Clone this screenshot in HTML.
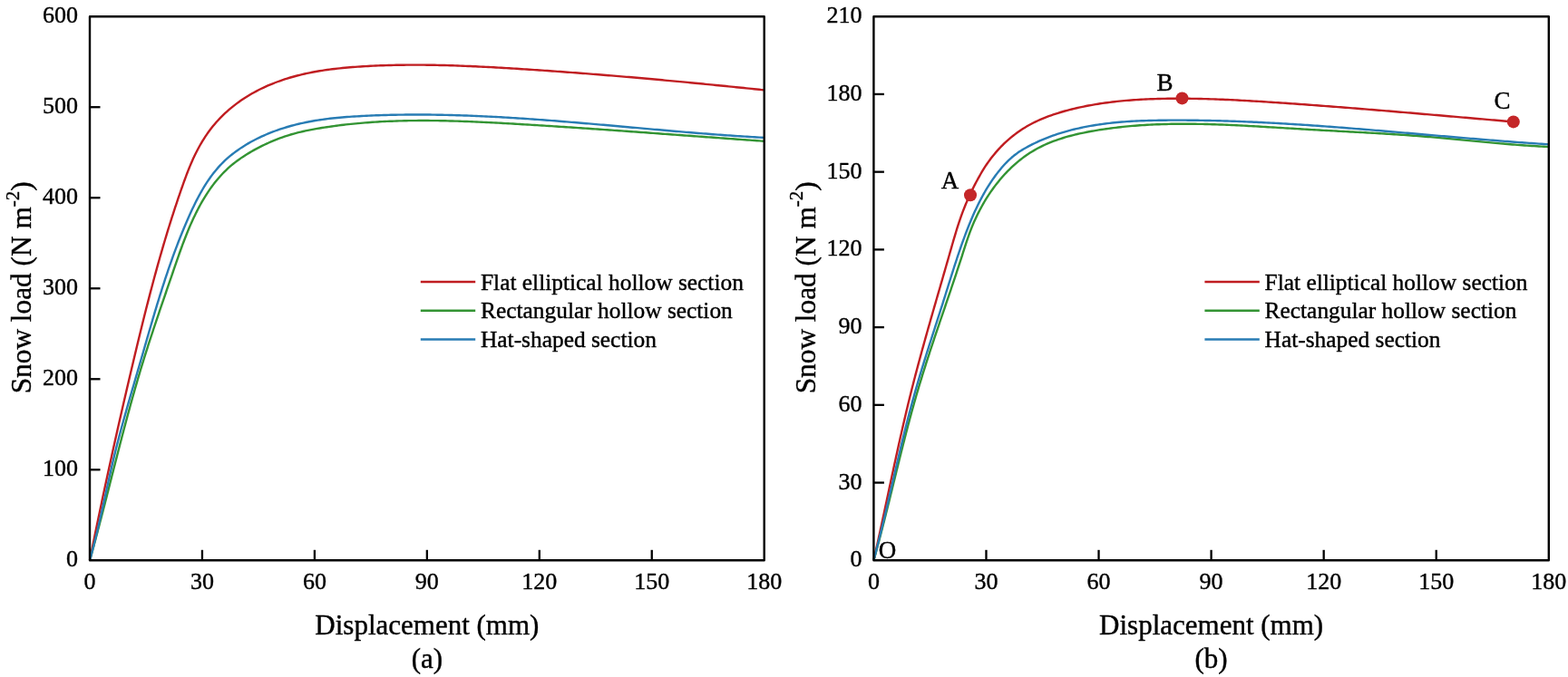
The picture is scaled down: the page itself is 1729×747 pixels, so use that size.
<!DOCTYPE html>
<html><head><meta charset="utf-8"><title>Snow load vs displacement</title>
<style>html,body{margin:0;padding:0;background:#fff;}svg{display:block;}text{stroke:#000;stroke-width:0.4px;}</style></head>
<body>
<svg width="1729" height="747" viewBox="0 0 1729 747" font-family="'Liberation Serif','Times New Roman',serif" font-size="26" fill="#000" stroke-linejoin="round">
<rect width="1729" height="747" fill="#fff"/>
<path d="M99.00,618.30 L99.55,615.53 L100.11,612.76 L100.66,609.99 L101.22,607.22 L101.78,604.45 L102.34,601.68 L102.90,598.91 L103.46,596.14 L104.02,593.37 L104.59,590.60 L105.15,587.83 L105.72,585.06 L106.29,582.29 L106.86,579.53 L107.43,576.76 L108.01,573.99 L108.58,571.22 L109.16,568.46 L109.74,565.69 L110.31,562.92 L110.89,560.16 L111.48,557.39 L112.06,554.63 L112.64,551.86 L113.23,549.10 L113.81,546.33 L114.40,543.57 L114.99,540.80 L115.58,538.04 L116.17,535.27 L116.77,532.51 L117.36,529.75 L117.96,526.98 L118.55,524.22 L119.15,521.46 L119.75,518.70 L120.35,515.93 L120.95,513.17 L121.56,510.41 L122.16,507.65 L122.77,504.89 L123.38,502.13 L123.98,499.37 L124.59,496.61 L125.20,493.85 L125.82,491.09 L126.43,488.33 L127.04,485.57 L127.66,482.81 L128.28,480.05 L128.90,477.29 L129.51,474.54 L130.13,471.78 L130.76,469.02 L131.38,466.26 L132.00,463.51 L132.63,460.75 L133.26,458.00 L133.88,455.24 L134.51,452.48 L135.14,449.73 L135.77,446.97 L136.41,444.22 L137.04,441.47 L137.67,438.71 L138.31,435.96 L138.95,433.20 L139.58,430.45 L140.22,427.70 L140.86,424.95 L141.51,422.19 L142.15,419.44 L142.79,416.69 L143.44,413.94 L144.08,411.19 L144.73,408.44 L145.38,405.69 L146.03,402.94 L146.68,400.19 L147.33,397.44 L147.98,394.69 L148.63,391.94 L149.29,389.19 L149.95,386.45 L150.60,383.70 L151.26,380.95 L151.92,378.20 L152.59,375.46 L153.25,372.71 L153.92,369.97 L154.59,367.22 L155.26,364.48 L155.93,361.74 L156.61,358.99 L157.28,356.25 L157.96,353.51 L158.65,350.77 L159.33,348.03 L160.02,345.29 L160.71,342.55 L161.40,339.81 L162.10,337.07 L162.80,334.34 L163.50,331.60 L164.21,328.87 L164.92,326.13 L165.63,323.40 L166.34,320.67 L167.06,317.94 L167.78,315.21 L168.51,312.48 L169.24,309.75 L169.97,307.02 L170.71,304.30 L171.45,301.57 L172.20,298.85 L172.95,296.12 L173.70,293.40 L174.46,290.68 L175.22,287.96 L175.99,285.24 L176.76,282.52 L177.54,279.81 L178.32,277.09 L179.11,274.38 L179.90,271.66 L180.70,268.95 L181.50,266.24 L182.30,263.53 L183.11,260.83 L183.93,258.12 L184.75,255.42 L185.58,252.71 L186.42,250.01 L187.25,247.31 L188.10,244.61 L188.95,241.91 L189.81,239.22 L190.67,236.52 L191.54,233.83 L192.41,231.14 L193.29,228.45 L194.18,225.76 L195.08,223.08 L195.98,220.39 L196.88,217.71 L197.80,215.03 L198.72,212.35 L199.65,209.67 L200.58,206.99 L201.52,204.32 L202.47,201.65 L203.43,198.98 L204.41,196.32 L205.40,193.66 L206.40,191.01 L207.43,188.37 L208.47,185.74 L209.55,183.13 L210.64,180.52 L211.76,177.93 L212.92,175.35 L214.10,172.79 L215.32,170.24 L216.58,167.72 L217.87,165.21 L219.20,162.72 L220.56,160.26 L221.97,157.82 L223.42,155.41 L224.91,153.02 L226.43,150.66 L228.01,148.33 L229.62,146.03 L231.28,143.76 L232.98,141.53 L234.73,139.33 L236.52,137.17 L238.36,135.04 L240.24,132.95 L242.16,130.89 L244.12,128.88 L246.12,126.90 L248.16,124.96 L250.24,123.05 L252.36,121.19 L254.51,119.36 L256.69,117.57 L258.91,115.83 L261.16,114.12 L263.44,112.45 L265.75,110.83 L268.09,109.24 L270.45,107.70 L272.85,106.19 L275.27,104.73 L277.71,103.31 L280.18,101.93 L282.67,100.59 L285.19,99.29 L287.72,98.03 L290.28,96.80 L292.85,95.62 L295.44,94.47 L298.05,93.36 L300.67,92.29 L303.31,91.25 L305.97,90.25 L308.63,89.28 L311.31,88.35 L314.00,87.46 L316.70,86.60 L319.41,85.77 L322.13,84.98 L324.86,84.22 L327.59,83.49 L330.33,82.80 L333.07,82.13 L335.82,81.50 L338.58,80.90 L341.34,80.32 L344.11,79.77 L346.88,79.25 L349.65,78.76 L352.44,78.28 L355.22,77.84 L358.01,77.41 L360.80,77.01 L363.60,76.63 L366.40,76.28 L369.20,75.94 L372.01,75.62 L374.81,75.32 L377.62,75.03 L380.44,74.76 L383.25,74.51 L386.07,74.27 L388.88,74.05 L391.70,73.84 L394.52,73.64 L397.34,73.45 L400.16,73.27 L402.98,73.11 L405.80,72.95 L408.62,72.80 L411.45,72.66 L414.27,72.53 L417.09,72.41 L419.91,72.30 L422.73,72.20 L425.56,72.10 L428.38,72.02 L431.20,71.94 L434.03,71.88 L436.85,71.82 L439.67,71.76 L442.50,71.72 L445.32,71.68 L448.15,71.66 L450.97,71.64 L453.79,71.62 L456.62,71.62 L459.44,71.62 L462.27,71.63 L465.09,71.64 L467.92,71.66 L470.74,71.69 L473.57,71.73 L476.39,71.77 L479.22,71.82 L482.05,71.87 L484.87,71.93 L487.70,72.00 L490.52,72.07 L493.35,72.14 L496.17,72.23 L499.00,72.31 L501.82,72.41 L504.65,72.50 L507.47,72.61 L510.30,72.71 L513.13,72.83 L515.95,72.94 L518.78,73.06 L521.60,73.19 L524.43,73.32 L527.25,73.45 L530.08,73.59 L532.90,73.73 L535.73,73.87 L538.55,74.02 L541.37,74.17 L544.20,74.32 L547.02,74.48 L549.85,74.64 L552.67,74.80 L555.49,74.96 L558.32,75.13 L561.14,75.30 L563.96,75.47 L566.79,75.65 L569.61,75.82 L572.43,76.00 L575.25,76.18 L578.08,76.36 L580.90,76.54 L583.72,76.73 L586.54,76.91 L589.36,77.10 L592.18,77.29 L595.00,77.48 L597.82,77.67 L600.64,77.87 L603.46,78.06 L606.28,78.26 L609.10,78.46 L611.92,78.65 L614.74,78.86 L617.56,79.06 L620.38,79.26 L623.19,79.47 L626.01,79.68 L628.83,79.89 L631.65,80.10 L634.47,80.31 L637.28,80.52 L640.10,80.73 L642.92,80.95 L645.74,81.17 L648.55,81.39 L651.37,81.61 L654.19,81.83 L657.00,82.05 L659.82,82.28 L662.63,82.50 L665.45,82.73 L668.27,82.96 L671.08,83.19 L673.90,83.42 L676.71,83.65 L679.53,83.89 L682.34,84.12 L685.16,84.36 L687.97,84.60 L690.79,84.83 L693.60,85.07 L696.42,85.32 L699.23,85.56 L702.05,85.80 L704.86,86.05 L707.67,86.29 L710.49,86.54 L713.30,86.79 L716.12,87.04 L718.93,87.29 L721.74,87.55 L724.56,87.80 L727.37,88.05 L730.18,88.31 L733.00,88.57 L735.81,88.83 L738.62,89.09 L741.44,89.35 L744.25,89.61 L747.06,89.87 L749.88,90.13 L752.69,90.40 L755.50,90.67 L758.32,90.93 L761.13,91.20 L763.94,91.47 L766.75,91.74 L769.57,92.01 L772.38,92.28 L775.19,92.56 L778.01,92.83 L780.82,93.11 L783.63,93.38 L786.44,93.66 L789.26,93.94 L792.07,94.22 L794.88,94.50 L797.69,94.78 L800.51,95.06 L803.32,95.35 L806.13,95.63 L808.95,95.91 L811.76,96.20 L814.57,96.49 L817.38,96.77 L820.20,97.06 L823.01,97.35 L825.82,97.64 L828.63,97.93 L831.45,98.22 L834.26,98.52 L837.07,98.81 L839.89,99.11 L842.70,99.40" fill="none" stroke="#C01D21" stroke-width="2.4" stroke-linejoin="round"/>
<path d="M99.00,618.30 L99.71,615.73 L100.42,613.16 L101.13,610.59 L101.84,608.01 L102.54,605.44 L103.24,602.86 L103.93,600.28 L104.63,597.71 L105.32,595.13 L106.01,592.55 L106.69,589.97 L107.38,587.39 L108.06,584.81 L108.74,582.22 L109.41,579.64 L110.09,577.06 L110.76,574.47 L111.44,571.89 L112.11,569.30 L112.78,566.72 L113.44,564.13 L114.11,561.54 L114.78,558.96 L115.44,556.37 L116.10,553.78 L116.77,551.19 L117.43,548.60 L118.09,546.01 L118.75,543.42 L119.41,540.83 L120.07,538.25 L120.73,535.66 L121.38,533.07 L122.04,530.48 L122.70,527.89 L123.36,525.30 L124.02,522.71 L124.68,520.12 L125.34,517.53 L126.00,514.94 L126.66,512.35 L127.32,509.76 L127.98,507.17 L128.64,504.58 L129.31,501.99 L129.97,499.40 L130.64,496.81 L131.31,494.23 L131.97,491.64 L132.64,489.05 L133.32,486.47 L133.99,483.88 L134.66,481.29 L135.34,478.71 L136.02,476.13 L136.70,473.54 L137.38,470.96 L138.07,468.38 L138.76,465.80 L139.45,463.22 L140.14,460.64 L140.83,458.06 L141.53,455.48 L142.23,452.90 L142.93,450.33 L143.64,447.75 L144.35,445.18 L145.06,442.60 L145.78,440.03 L146.50,437.46 L147.22,434.89 L147.95,432.32 L148.68,429.75 L149.41,427.19 L150.15,424.62 L150.89,422.06 L151.64,419.50 L152.39,416.93 L153.14,414.37 L153.90,411.82 L154.67,409.26 L155.43,406.70 L156.21,404.15 L156.98,401.60 L157.77,399.05 L158.55,396.50 L159.35,393.95 L160.14,391.40 L160.94,388.86 L161.75,386.31 L162.56,383.77 L163.37,381.23 L164.19,378.69 L165.01,376.15 L165.83,373.61 L166.66,371.08 L167.49,368.54 L168.33,366.01 L169.17,363.47 L170.01,360.94 L170.85,358.41 L171.70,355.88 L172.54,353.35 L173.40,350.82 L174.25,348.29 L175.10,345.76 L175.96,343.23 L176.82,340.70 L177.68,338.17 L178.54,335.64 L179.40,333.11 L180.27,330.59 L181.13,328.06 L182.00,325.53 L182.87,323.00 L183.73,320.48 L184.60,317.95 L185.47,315.42 L186.34,312.89 L187.21,310.37 L188.08,307.84 L188.95,305.31 L189.81,302.78 L190.68,300.25 L191.55,297.72 L192.42,295.19 L193.29,292.66 L194.16,290.13 L195.03,287.60 L195.91,285.07 L196.79,282.55 L197.68,280.02 L198.58,277.50 L199.49,274.99 L200.40,272.47 L201.32,269.96 L202.26,267.46 L203.21,264.96 L204.17,262.46 L205.15,259.98 L206.14,257.49 L207.14,255.02 L208.17,252.55 L209.21,250.09 L210.27,247.63 L211.35,245.19 L212.45,242.75 L213.58,240.33 L214.73,237.91 L215.90,235.50 L217.09,233.11 L218.32,230.73 L219.56,228.36 L220.84,226.01 L222.14,223.67 L223.47,221.35 L224.83,219.06 L226.22,216.78 L227.64,214.52 L229.10,212.29 L230.58,210.08 L232.10,207.90 L233.65,205.75 L235.23,203.62 L236.85,201.52 L238.51,199.46 L240.20,197.42 L241.94,195.42 L243.70,193.45 L245.51,191.52 L247.36,189.63 L249.25,187.77 L251.18,185.95 L253.15,184.18 L255.16,182.44 L257.22,180.75 L259.31,179.10 L261.44,177.48 L263.60,175.91 L265.80,174.37 L268.03,172.88 L270.28,171.41 L272.56,169.99 L274.87,168.60 L277.19,167.24 L279.54,165.91 L281.90,164.62 L284.28,163.35 L286.67,162.12 L289.07,160.92 L291.48,159.75 L293.91,158.61 L296.35,157.50 L298.79,156.42 L301.25,155.38 L303.72,154.37 L306.21,153.39 L308.70,152.45 L311.20,151.54 L313.71,150.67 L316.24,149.84 L318.77,149.04 L321.31,148.27 L323.87,147.55 L326.43,146.86 L329.00,146.20 L331.58,145.58 L334.17,144.98 L336.76,144.41 L339.36,143.87 L341.97,143.35 L344.58,142.85 L347.20,142.37 L349.82,141.91 L352.45,141.47 L355.08,141.04 L357.71,140.62 L360.34,140.21 L362.98,139.82 L365.62,139.44 L368.26,139.08 L370.91,138.72 L373.56,138.38 L376.21,138.05 L378.86,137.73 L381.52,137.43 L384.17,137.14 L386.83,136.85 L389.49,136.58 L392.15,136.32 L394.82,136.07 L397.48,135.84 L400.15,135.61 L402.81,135.40 L405.48,135.19 L408.15,135.00 L410.82,134.81 L413.49,134.64 L416.16,134.47 L418.83,134.32 L421.50,134.17 L424.18,134.04 L426.85,133.91 L429.52,133.79 L432.19,133.69 L434.86,133.59 L437.53,133.50 L440.20,133.42 L442.88,133.34 L445.55,133.28 L448.22,133.22 L450.89,133.17 L453.56,133.13 L456.23,133.10 L458.90,133.08 L461.57,133.06 L464.24,133.05 L466.91,133.04 L469.58,133.05 L472.25,133.06 L474.91,133.08 L477.58,133.10 L480.25,133.13 L482.92,133.17 L485.59,133.21 L488.26,133.26 L490.93,133.31 L493.59,133.37 L496.26,133.43 L498.93,133.51 L501.60,133.58 L504.27,133.66 L506.93,133.75 L509.60,133.84 L512.27,133.93 L514.93,134.03 L517.60,134.13 L520.27,134.24 L522.94,134.35 L525.60,134.47 L528.27,134.59 L530.94,134.71 L533.60,134.84 L536.27,134.97 L538.94,135.10 L541.60,135.23 L544.27,135.37 L546.94,135.51 L549.60,135.65 L552.27,135.80 L554.93,135.95 L557.60,136.10 L560.27,136.25 L562.93,136.40 L565.60,136.55 L568.26,136.71 L570.93,136.87 L573.60,137.03 L576.26,137.19 L578.93,137.35 L581.59,137.51 L584.26,137.67 L586.92,137.83 L589.59,138.00 L592.26,138.16 L594.92,138.33 L597.59,138.49 L600.25,138.66 L602.92,138.83 L605.58,139.00 L608.25,139.17 L610.91,139.34 L613.58,139.51 L616.25,139.69 L618.91,139.86 L621.58,140.04 L624.24,140.21 L626.91,140.39 L629.57,140.56 L632.24,140.74 L634.90,140.92 L637.57,141.10 L640.23,141.28 L642.90,141.46 L645.56,141.64 L648.23,141.82 L650.89,142.00 L653.56,142.18 L656.22,142.37 L658.89,142.55 L661.55,142.73 L664.22,142.92 L666.88,143.10 L669.55,143.29 L672.21,143.48 L674.88,143.66 L677.54,143.85 L680.20,144.04 L682.87,144.23 L685.53,144.42 L688.20,144.61 L690.86,144.79 L693.53,144.98 L696.19,145.18 L698.86,145.37 L701.52,145.56 L704.18,145.75 L706.85,145.94 L709.51,146.13 L712.18,146.32 L714.84,146.52 L717.51,146.71 L720.17,146.90 L722.83,147.10 L725.50,147.29 L728.16,147.48 L730.83,147.68 L733.49,147.87 L736.16,148.06 L738.82,148.26 L741.48,148.45 L744.15,148.65 L746.81,148.84 L749.48,149.04 L752.14,149.23 L754.80,149.43 L757.47,149.62 L760.13,149.82 L762.79,150.01 L765.46,150.21 L768.12,150.40 L770.79,150.60 L773.45,150.79 L776.11,150.99 L778.78,151.18 L781.44,151.38 L784.10,151.57 L786.77,151.77 L789.43,151.96 L792.10,152.15 L794.76,152.35 L797.42,152.54 L800.09,152.74 L802.75,152.93 L805.41,153.12 L808.08,153.32 L810.74,153.51 L813.40,153.70 L816.07,153.89 L818.73,154.09 L821.39,154.28 L824.06,154.47 L826.72,154.66 L829.38,154.85 L832.05,155.04 L834.71,155.23 L837.37,155.42 L840.04,155.61 L842.70,155.80" fill="none" stroke="#339433" stroke-width="2.4" stroke-linejoin="round"/>
<path d="M99.00,618.30 L99.72,615.70 L100.43,613.10 L101.13,610.50 L101.82,607.89 L102.51,605.28 L103.18,602.67 L103.84,600.06 L104.50,597.44 L105.15,594.82 L105.79,592.20 L106.42,589.58 L107.05,586.96 L107.67,584.33 L108.29,581.71 L108.90,579.08 L109.50,576.45 L110.10,573.82 L110.70,571.19 L111.29,568.56 L111.88,565.93 L112.47,563.29 L113.05,560.66 L113.64,558.02 L114.22,555.39 L114.80,552.75 L115.37,550.12 L115.95,547.48 L116.53,544.84 L117.11,542.21 L117.69,539.57 L118.27,536.94 L118.85,534.30 L119.43,531.67 L120.01,529.03 L120.60,526.40 L121.19,523.77 L121.79,521.14 L122.39,518.51 L122.99,515.88 L123.60,513.25 L124.21,510.62 L124.83,508.00 L125.45,505.37 L126.08,502.75 L126.72,500.13 L127.36,497.51 L128.01,494.89 L128.67,492.28 L129.33,489.66 L130.01,487.05 L130.68,484.44 L131.36,481.83 L132.05,479.23 L132.74,476.62 L133.44,474.02 L134.15,471.41 L134.85,468.81 L135.57,466.21 L136.28,463.61 L137.00,461.01 L137.73,458.41 L138.46,455.82 L139.19,453.22 L139.92,450.63 L140.66,448.03 L141.40,445.44 L142.14,442.85 L142.89,440.26 L143.63,437.66 L144.38,435.07 L145.13,432.48 L145.89,429.89 L146.64,427.30 L147.39,424.71 L148.15,422.12 L148.90,419.53 L149.66,416.95 L150.41,414.36 L151.17,411.77 L151.92,409.18 L152.68,406.59 L153.43,404.00 L154.18,401.41 L154.93,398.82 L155.68,396.23 L156.43,393.64 L157.18,391.05 L157.92,388.46 L158.67,385.87 L159.41,383.28 L160.16,380.69 L160.91,378.09 L161.65,375.50 L162.40,372.91 L163.15,370.32 L163.90,367.74 L164.65,365.15 L165.40,362.56 L166.16,359.97 L166.91,357.38 L167.67,354.80 L168.43,352.21 L169.20,349.63 L169.96,347.04 L170.73,344.46 L171.51,341.88 L172.28,339.30 L173.06,336.72 L173.85,334.14 L174.64,331.57 L175.43,328.99 L176.23,326.42 L177.03,323.85 L177.84,321.28 L178.65,318.71 L179.47,316.14 L180.30,313.57 L181.13,311.01 L181.96,308.45 L182.81,305.89 L183.66,303.33 L184.52,300.78 L185.38,298.22 L186.25,295.67 L187.13,293.12 L188.02,290.58 L188.91,288.03 L189.82,285.49 L190.73,282.95 L191.65,280.42 L192.58,277.88 L193.52,275.35 L194.47,272.82 L195.42,270.30 L196.39,267.78 L197.37,265.26 L198.36,262.74 L199.35,260.23 L200.36,257.72 L201.38,255.21 L202.41,252.71 L203.46,250.21 L204.51,247.71 L205.58,245.22 L206.65,242.73 L207.74,240.24 L208.85,237.76 L209.96,235.28 L211.09,232.81 L212.24,230.35 L213.41,227.90 L214.59,225.46 L215.79,223.02 L217.02,220.61 L218.27,218.20 L219.54,215.82 L220.83,213.45 L222.16,211.10 L223.51,208.77 L224.89,206.46 L226.30,204.18 L227.74,201.92 L229.21,199.68 L230.72,197.48 L232.26,195.30 L233.84,193.15 L235.45,191.04 L237.11,188.95 L238.81,186.91 L240.54,184.89 L242.32,182.92 L244.15,180.98 L246.02,179.09 L247.94,177.23 L249.90,175.42 L251.90,173.65 L253.95,171.92 L256.04,170.23 L258.17,168.58 L260.33,166.97 L262.53,165.40 L264.75,163.87 L267.01,162.38 L269.30,160.93 L271.61,159.52 L273.95,158.14 L276.31,156.81 L278.69,155.51 L281.09,154.25 L283.50,153.02 L285.93,151.83 L288.38,150.68 L290.84,149.56 L293.32,148.48 L295.81,147.43 L298.32,146.42 L300.84,145.44 L303.37,144.50 L305.91,143.58 L308.46,142.70 L311.03,141.85 L313.61,141.03 L316.19,140.25 L318.79,139.49 L321.39,138.76 L324.00,138.06 L326.62,137.40 L329.25,136.76 L331.88,136.14 L334.52,135.56 L337.17,135.00 L339.81,134.47 L342.47,133.97 L345.13,133.49 L347.79,133.04 L350.45,132.61 L353.12,132.20 L355.79,131.82 L358.46,131.46 L361.13,131.12 L363.81,130.80 L366.49,130.50 L369.17,130.22 L371.85,129.95 L374.54,129.70 L377.22,129.47 L379.91,129.25 L382.60,129.04 L385.29,128.85 L387.98,128.66 L390.67,128.49 L393.36,128.33 L396.05,128.18 L398.74,128.03 L401.43,127.90 L404.12,127.77 L406.82,127.64 L409.51,127.53 L412.20,127.42 L414.89,127.31 L417.59,127.21 L420.28,127.12 L422.97,127.04 L425.66,126.96 L428.36,126.89 L431.05,126.82 L433.74,126.76 L436.43,126.71 L439.12,126.66 L441.82,126.62 L444.51,126.59 L447.20,126.56 L449.89,126.53 L452.59,126.52 L455.28,126.50 L457.97,126.50 L460.66,126.50 L463.36,126.50 L466.05,126.51 L468.74,126.53 L471.44,126.55 L474.13,126.57 L476.82,126.60 L479.51,126.64 L482.21,126.68 L484.90,126.73 L487.59,126.78 L490.28,126.83 L492.98,126.89 L495.67,126.96 L498.36,127.03 L501.06,127.10 L503.75,127.18 L506.44,127.26 L509.13,127.35 L511.83,127.44 L514.52,127.54 L517.21,127.64 L519.90,127.74 L522.60,127.85 L525.29,127.97 L527.98,128.08 L530.67,128.20 L533.37,128.33 L536.06,128.46 L538.75,128.59 L541.45,128.72 L544.14,128.86 L546.83,129.00 L549.52,129.15 L552.22,129.30 L554.91,129.45 L557.60,129.61 L560.29,129.77 L562.99,129.93 L565.68,130.10 L568.37,130.27 L571.06,130.44 L573.75,130.61 L576.45,130.79 L579.14,130.97 L581.83,131.15 L584.52,131.34 L587.22,131.53 L589.91,131.72 L592.60,131.91 L595.29,132.10 L597.99,132.30 L600.68,132.50 L603.37,132.70 L606.06,132.91 L608.75,133.11 L611.44,133.32 L614.14,133.53 L616.83,133.75 L619.52,133.96 L622.21,134.18 L624.90,134.39 L627.60,134.61 L630.29,134.83 L632.98,135.06 L635.67,135.28 L638.36,135.50 L641.05,135.73 L643.74,135.96 L646.44,136.19 L649.13,136.42 L651.82,136.65 L654.51,136.88 L657.20,137.11 L659.89,137.35 L662.58,137.58 L665.27,137.82 L667.96,138.05 L670.66,138.29 L673.35,138.53 L676.04,138.77 L678.73,139.01 L681.42,139.24 L684.11,139.48 L686.80,139.72 L689.49,139.96 L692.18,140.20 L694.87,140.44 L697.56,140.68 L700.25,140.92 L702.94,141.16 L705.63,141.40 L708.32,141.64 L711.01,141.88 L713.70,142.12 L716.39,142.35 L719.08,142.59 L721.77,142.83 L724.46,143.07 L727.15,143.30 L729.84,143.54 L732.53,143.77 L735.21,144.00 L737.90,144.24 L740.59,144.47 L743.28,144.70 L745.97,144.93 L748.66,145.15 L751.35,145.38 L754.04,145.61 L756.72,145.83 L759.41,146.05 L762.10,146.27 L764.79,146.49 L767.48,146.71 L770.17,146.93 L772.85,147.14 L775.54,147.36 L778.23,147.57 L780.92,147.78 L783.60,147.98 L786.29,148.19 L788.98,148.39 L791.67,148.59 L794.35,148.79 L797.04,148.98 L799.73,149.18 L802.41,149.37 L805.10,149.56 L807.79,149.74 L810.47,149.93 L813.16,150.11 L815.84,150.29 L818.53,150.46 L821.22,150.63 L823.90,150.80 L826.59,150.97 L829.27,151.13 L831.96,151.29 L834.64,151.45 L837.33,151.60 L840.01,151.75 L842.70,151.90" fill="none" stroke="#287CB4" stroke-width="2.4" stroke-linejoin="round"/>

<rect x="99.0" y="18.2" width="743.70" height="600.10" fill="none" stroke="#000" stroke-width="2.4"/>
<text x="86.0" y="625.30" text-anchor="end">0</text>
<line x1="99.0" y1="518.28" x2="110.5" y2="518.28" stroke="#000" stroke-width="2.3"/>
<text x="86.0" y="525.28" text-anchor="end">100</text>
<line x1="99.0" y1="418.27" x2="110.5" y2="418.27" stroke="#000" stroke-width="2.3"/>
<text x="86.0" y="425.27" text-anchor="end">200</text>
<line x1="99.0" y1="318.25" x2="110.5" y2="318.25" stroke="#000" stroke-width="2.3"/>
<text x="86.0" y="325.25" text-anchor="end">300</text>
<line x1="99.0" y1="218.23" x2="110.5" y2="218.23" stroke="#000" stroke-width="2.3"/>
<text x="86.0" y="225.23" text-anchor="end">400</text>
<line x1="99.0" y1="118.22" x2="110.5" y2="118.22" stroke="#000" stroke-width="2.3"/>
<text x="86.0" y="125.22" text-anchor="end">500</text>
<text x="86.0" y="25.20" text-anchor="end">600</text>
<text x="99.00" y="649.70" text-anchor="middle">0</text>
<line x1="222.95" y1="618.3" x2="222.95" y2="606.8" stroke="#000" stroke-width="2.3"/>
<text x="222.95" y="649.70" text-anchor="middle">30</text>
<line x1="346.90" y1="618.3" x2="346.90" y2="606.8" stroke="#000" stroke-width="2.3"/>
<text x="346.90" y="649.70" text-anchor="middle">60</text>
<line x1="470.85" y1="618.3" x2="470.85" y2="606.8" stroke="#000" stroke-width="2.3"/>
<text x="470.85" y="649.70" text-anchor="middle">90</text>
<line x1="594.80" y1="618.3" x2="594.80" y2="606.8" stroke="#000" stroke-width="2.3"/>
<text x="594.80" y="649.70" text-anchor="middle">120</text>
<line x1="718.75" y1="618.3" x2="718.75" y2="606.8" stroke="#000" stroke-width="2.3"/>
<text x="718.75" y="649.70" text-anchor="middle">150</text>
<text x="842.70" y="649.70" text-anchor="middle">180</text>
<text x="470.85" y="699.5" text-anchor="middle" font-size="31">Displacement (mm)</text>
<text x="470.85" y="736.5" text-anchor="middle" font-size="31">(a)</text>
<text transform="translate(34.40,317.3) rotate(-90)" text-anchor="middle" font-size="31.3">Snow load (N m<tspan dy="-13.5" font-size="21">-2</tspan><tspan dy="13.5">)</tspan></text>
<line x1="463.80" y1="311.00" x2="524.20" y2="311.00" stroke="#C01D21" stroke-width="2.4"/>
<text x="530.00" y="319.50" font-size="25.4">Flat elliptical hollow section</text>
<line x1="463.80" y1="342.80" x2="524.20" y2="342.80" stroke="#339433" stroke-width="2.4"/>
<text x="530.00" y="351.10" font-size="25.4">Rectangular hollow section</text>
<line x1="463.80" y1="374.50" x2="524.20" y2="374.50" stroke="#287CB4" stroke-width="2.4"/>
<text x="530.00" y="382.80" font-size="25.4">Hat-shaped section</text>
<path d="M963.40,618.30 L963.98,615.71 L964.56,613.12 L965.14,610.53 L965.72,607.94 L966.29,605.34 L966.87,602.75 L967.44,600.16 L968.01,597.56 L968.58,594.97 L969.14,592.37 L969.71,589.78 L970.27,587.18 L970.83,584.59 L971.39,581.99 L971.95,579.39 L972.51,576.80 L973.07,574.20 L973.62,571.60 L974.18,569.01 L974.73,566.41 L975.29,563.81 L975.84,561.22 L976.40,558.62 L976.95,556.02 L977.50,553.42 L978.06,550.82 L978.61,548.23 L979.16,545.63 L979.71,543.03 L980.27,540.43 L980.82,537.83 L981.37,535.24 L981.93,532.64 L982.48,530.04 L983.04,527.44 L983.60,524.85 L984.15,522.25 L984.71,519.65 L985.27,517.06 L985.83,514.46 L986.39,511.87 L986.95,509.27 L987.52,506.67 L988.08,504.08 L988.65,501.49 L989.22,498.89 L989.79,496.30 L990.36,493.70 L990.94,491.11 L991.51,488.52 L992.09,485.93 L992.67,483.34 L993.25,480.75 L993.84,478.16 L994.43,475.57 L995.02,472.98 L995.61,470.39 L996.20,467.80 L996.80,465.21 L997.40,462.63 L998.01,460.04 L998.61,457.46 L999.22,454.87 L999.84,452.29 L1000.45,449.71 L1001.07,447.13 L1001.70,444.55 L1002.33,441.97 L1002.96,439.39 L1003.59,436.81 L1004.23,434.23 L1004.87,431.66 L1005.52,429.08 L1006.17,426.51 L1006.83,423.93 L1007.48,421.36 L1008.15,418.79 L1008.81,416.22 L1009.48,413.65 L1010.16,411.08 L1010.83,408.51 L1011.51,405.95 L1012.20,403.38 L1012.88,400.82 L1013.57,398.25 L1014.26,395.69 L1014.96,393.13 L1015.66,390.56 L1016.36,388.00 L1017.06,385.44 L1017.77,382.88 L1018.47,380.32 L1019.18,377.76 L1019.90,375.20 L1020.61,372.64 L1021.33,370.09 L1022.05,367.53 L1022.77,364.97 L1023.49,362.42 L1024.21,359.86 L1024.94,357.30 L1025.66,354.75 L1026.39,352.20 L1027.12,349.64 L1027.85,347.09 L1028.58,344.53 L1029.32,341.98 L1030.05,339.43 L1030.78,336.87 L1031.52,334.32 L1032.25,331.77 L1032.99,329.22 L1033.73,326.66 L1034.46,324.11 L1035.20,321.56 L1035.94,319.01 L1036.67,316.46 L1037.41,313.91 L1038.15,311.35 L1038.88,308.80 L1039.62,306.25 L1040.36,303.70 L1041.09,301.15 L1041.83,298.60 L1042.56,296.04 L1043.29,293.49 L1044.03,290.94 L1044.76,288.39 L1045.49,285.83 L1046.22,283.28 L1046.94,280.73 L1047.67,278.17 L1048.40,275.62 L1049.12,273.07 L1049.85,270.52 L1050.59,267.97 L1051.32,265.42 L1052.07,262.87 L1052.82,260.33 L1053.58,257.79 L1054.35,255.25 L1055.14,252.72 L1055.93,250.20 L1056.74,247.67 L1057.57,245.16 L1058.42,242.65 L1059.28,240.15 L1060.16,237.65 L1061.07,235.16 L1062.00,232.68 L1062.95,230.21 L1063.93,227.75 L1064.93,225.30 L1065.96,222.85 L1067.01,220.42 L1068.08,217.99 L1069.18,215.58 L1070.30,213.17 L1071.44,210.78 L1072.61,208.40 L1073.79,206.02 L1075.00,203.66 L1076.23,201.30 L1077.48,198.96 L1078.74,196.63 L1080.03,194.31 L1081.34,192.01 L1082.69,189.72 L1084.06,187.45 L1085.46,185.20 L1086.90,182.97 L1088.38,180.77 L1089.89,178.59 L1091.45,176.44 L1093.05,174.31 L1094.69,172.22 L1096.37,170.15 L1098.08,168.11 L1099.84,166.11 L1101.63,164.14 L1103.45,162.20 L1105.32,160.30 L1107.21,158.44 L1109.15,156.61 L1111.11,154.82 L1113.11,153.07 L1115.14,151.37 L1117.21,149.70 L1119.31,148.08 L1121.43,146.50 L1123.59,144.97 L1125.78,143.48 L1127.99,142.05 L1130.24,140.66 L1132.51,139.31 L1134.81,138.01 L1137.13,136.76 L1139.48,135.55 L1141.85,134.38 L1144.24,133.26 L1146.65,132.17 L1149.09,131.12 L1151.54,130.11 L1154.00,129.14 L1156.49,128.20 L1158.99,127.30 L1161.50,126.43 L1164.03,125.59 L1166.57,124.78 L1169.11,124.00 L1171.67,123.25 L1174.24,122.52 L1176.81,121.82 L1179.40,121.15 L1181.98,120.50 L1184.57,119.87 L1187.17,119.27 L1189.76,118.68 L1192.37,118.12 L1194.97,117.57 L1197.58,117.05 L1200.19,116.55 L1202.80,116.06 L1205.41,115.60 L1208.03,115.15 L1210.65,114.72 L1213.27,114.31 L1215.90,113.92 L1218.53,113.55 L1221.16,113.19 L1223.79,112.85 L1226.42,112.53 L1229.06,112.22 L1231.70,111.93 L1234.34,111.65 L1236.98,111.39 L1239.62,111.14 L1242.26,110.91 L1244.91,110.69 L1247.56,110.49 L1250.21,110.29 L1252.85,110.12 L1255.51,109.95 L1258.16,109.80 L1260.81,109.65 L1263.46,109.52 L1266.12,109.41 L1268.77,109.30 L1271.43,109.20 L1274.08,109.11 L1276.74,109.04 L1279.39,108.97 L1282.05,108.91 L1284.71,108.86 L1287.36,108.82 L1290.02,108.79 L1292.68,108.77 L1295.33,108.75 L1297.99,108.74 L1300.64,108.74 L1303.30,108.74 L1305.95,108.76 L1308.61,108.78 L1311.26,108.80 L1313.92,108.84 L1316.57,108.88 L1319.23,108.92 L1321.88,108.98 L1324.54,109.04 L1327.19,109.10 L1329.84,109.17 L1332.50,109.25 L1335.15,109.33 L1337.81,109.42 L1340.46,109.51 L1343.11,109.61 L1345.77,109.71 L1348.42,109.82 L1351.07,109.93 L1353.72,110.05 L1356.38,110.17 L1359.03,110.29 L1361.68,110.42 L1364.33,110.55 L1366.98,110.69 L1369.64,110.83 L1372.29,110.98 L1374.94,111.12 L1377.59,111.27 L1380.24,111.43 L1382.89,111.58 L1385.54,111.74 L1388.20,111.91 L1390.85,112.07 L1393.50,112.24 L1396.15,112.41 L1398.80,112.58 L1401.45,112.75 L1404.10,112.93 L1406.75,113.10 L1409.40,113.28 L1412.05,113.46 L1414.70,113.64 L1417.35,113.82 L1420.00,114.00 L1422.65,114.19 L1425.30,114.37 L1427.95,114.56 L1430.60,114.75 L1433.25,114.94 L1435.90,115.13 L1438.54,115.32 L1441.19,115.51 L1443.84,115.70 L1446.49,115.89 L1449.14,116.09 L1451.79,116.29 L1454.44,116.48 L1457.08,116.68 L1459.73,116.88 L1462.38,117.08 L1465.03,117.28 L1467.68,117.48 L1470.33,117.69 L1472.97,117.89 L1475.62,118.10 L1478.27,118.30 L1480.92,118.51 L1483.56,118.71 L1486.21,118.92 L1488.86,119.13 L1491.51,119.34 L1494.15,119.55 L1496.80,119.76 L1499.45,119.97 L1502.10,120.19 L1504.74,120.40 L1507.39,120.62 L1510.04,120.83 L1512.68,121.05 L1515.33,121.26 L1517.98,121.48 L1520.63,121.70 L1523.27,121.91 L1525.92,122.13 L1528.57,122.35 L1531.21,122.57 L1533.86,122.79 L1536.51,123.01 L1539.15,123.23 L1541.80,123.46 L1544.44,123.68 L1547.09,123.90 L1549.74,124.12 L1552.38,124.35 L1555.03,124.57 L1557.68,124.80 L1560.32,125.02 L1562.97,125.25 L1565.61,125.47 L1568.26,125.70 L1570.91,125.93 L1573.55,126.15 L1576.20,126.38 L1578.84,126.61 L1581.49,126.84 L1584.14,127.06 L1586.78,127.29 L1589.43,127.52 L1592.07,127.75 L1594.72,127.98 L1597.37,128.21 L1600.01,128.43 L1602.66,128.66 L1605.30,128.89 L1607.95,129.12 L1610.59,129.35 L1613.24,129.58 L1615.89,129.81 L1618.53,130.04 L1621.18,130.27 L1623.82,130.50 L1626.47,130.73 L1629.11,130.96 L1631.76,131.19 L1634.41,131.42 L1637.05,131.65 L1639.70,131.88 L1642.34,132.11 L1644.99,132.34 L1647.63,132.57 L1650.28,132.80 L1652.93,133.03 L1655.57,133.26 L1658.22,133.49 L1660.86,133.72 L1663.51,133.94 L1666.15,134.17 L1668.80,134.40" fill="none" stroke="#C01D21" stroke-width="2.4" stroke-linejoin="round"/>
<path d="M963.40,618.30 L964.12,615.72 L964.83,613.15 L965.54,610.57 L966.25,607.99 L966.95,605.41 L967.64,602.82 L968.33,600.24 L969.02,597.66 L969.70,595.07 L970.38,592.48 L971.06,589.90 L971.73,587.31 L972.40,584.72 L973.07,582.13 L973.73,579.54 L974.40,576.95 L975.05,574.35 L975.71,571.76 L976.36,569.17 L977.02,566.57 L977.67,563.98 L978.31,561.38 L978.96,558.78 L979.60,556.19 L980.25,553.59 L980.89,550.99 L981.53,548.40 L982.17,545.80 L982.81,543.20 L983.45,540.60 L984.08,538.01 L984.72,535.41 L985.36,532.81 L986.00,530.21 L986.63,527.61 L987.27,525.01 L987.91,522.42 L988.55,519.82 L989.19,517.22 L989.83,514.62 L990.47,512.03 L991.11,509.43 L991.76,506.83 L992.40,504.24 L993.05,501.64 L993.70,499.05 L994.35,496.45 L995.00,493.86 L995.66,491.27 L996.31,488.67 L996.98,486.08 L997.64,483.49 L998.30,480.90 L998.97,478.31 L999.65,475.72 L1000.32,473.14 L1001.00,470.55 L1001.68,467.96 L1002.37,465.38 L1003.06,462.80 L1003.75,460.21 L1004.45,457.63 L1005.16,455.05 L1005.86,452.48 L1006.58,449.90 L1007.29,447.32 L1008.02,444.75 L1008.74,442.18 L1009.48,439.60 L1010.22,437.03 L1010.96,434.47 L1011.71,431.90 L1012.47,429.33 L1013.23,426.77 L1014.00,424.21 L1014.77,421.65 L1015.55,419.09 L1016.33,416.53 L1017.12,413.98 L1017.92,411.42 L1018.71,408.87 L1019.52,406.32 L1020.33,403.77 L1021.14,401.22 L1021.95,398.67 L1022.77,396.12 L1023.60,393.57 L1024.43,391.03 L1025.26,388.49 L1026.09,385.94 L1026.93,383.40 L1027.77,380.86 L1028.61,378.32 L1029.46,375.78 L1030.30,373.24 L1031.15,370.70 L1032.01,368.16 L1032.86,365.63 L1033.71,363.09 L1034.57,360.56 L1035.43,358.02 L1036.29,355.48 L1037.15,352.95 L1038.01,350.42 L1038.87,347.88 L1039.73,345.35 L1040.59,342.81 L1041.46,340.28 L1042.32,337.75 L1043.18,335.21 L1044.04,332.68 L1044.90,330.15 L1045.76,327.61 L1046.62,325.08 L1047.48,322.55 L1048.34,320.01 L1049.19,317.48 L1050.04,314.94 L1050.89,312.41 L1051.74,309.88 L1052.59,307.34 L1053.43,304.81 L1054.28,302.28 L1055.12,299.74 L1055.95,297.21 L1056.78,294.67 L1057.61,292.14 L1058.44,289.61 L1059.26,287.07 L1060.08,284.54 L1060.89,282.01 L1061.70,279.47 L1062.51,276.94 L1063.32,274.41 L1064.13,271.88 L1064.94,269.35 L1065.77,266.83 L1066.62,264.31 L1067.48,261.79 L1068.36,259.28 L1069.28,256.77 L1070.22,254.27 L1071.19,251.78 L1072.20,249.30 L1073.24,246.82 L1074.31,244.35 L1075.41,241.90 L1076.55,239.46 L1077.72,237.03 L1078.91,234.61 L1080.15,232.21 L1081.41,229.83 L1082.71,227.46 L1084.03,225.10 L1085.39,222.77 L1086.78,220.46 L1088.20,218.16 L1089.65,215.89 L1091.14,213.64 L1092.65,211.41 L1094.20,209.21 L1095.77,207.03 L1097.38,204.87 L1099.02,202.74 L1100.69,200.64 L1102.39,198.57 L1104.12,196.53 L1105.88,194.52 L1107.67,192.54 L1109.49,190.59 L1111.34,188.67 L1113.22,186.79 L1115.13,184.95 L1117.07,183.14 L1119.05,181.36 L1121.05,179.63 L1123.08,177.93 L1125.14,176.27 L1127.22,174.65 L1129.34,173.08 L1131.49,171.54 L1133.67,170.05 L1135.87,168.61 L1138.11,167.20 L1140.37,165.85 L1142.66,164.54 L1144.98,163.28 L1147.33,162.07 L1149.71,160.90 L1152.11,159.77 L1154.53,158.69 L1156.98,157.66 L1159.45,156.66 L1161.94,155.70 L1164.46,154.78 L1166.98,153.90 L1169.53,153.05 L1172.10,152.24 L1174.67,151.46 L1177.27,150.72 L1179.87,150.01 L1182.49,149.32 L1185.12,148.67 L1187.75,148.04 L1190.40,147.44 L1193.05,146.86 L1195.71,146.31 L1198.37,145.78 L1201.04,145.27 L1203.71,144.78 L1206.38,144.31 L1209.05,143.86 L1211.72,143.43 L1214.39,143.01 L1217.05,142.61 L1219.72,142.22 L1222.39,141.85 L1225.05,141.49 L1227.71,141.15 L1230.37,140.82 L1233.04,140.51 L1235.70,140.21 L1238.36,139.92 L1241.01,139.65 L1243.67,139.39 L1246.33,139.15 L1248.99,138.92 L1251.64,138.70 L1254.30,138.49 L1256.95,138.30 L1259.61,138.12 L1262.26,137.95 L1264.92,137.79 L1267.57,137.65 L1270.23,137.51 L1272.88,137.39 L1275.54,137.28 L1278.19,137.18 L1280.85,137.09 L1283.50,137.01 L1286.16,136.94 L1288.81,136.87 L1291.47,136.82 L1294.13,136.78 L1296.78,136.75 L1299.44,136.72 L1302.10,136.71 L1304.76,136.70 L1307.42,136.70 L1310.08,136.71 L1312.74,136.73 L1315.40,136.75 L1318.07,136.79 L1320.73,136.83 L1323.40,136.87 L1326.06,136.92 L1328.73,136.98 L1331.40,137.05 L1334.07,137.12 L1336.74,137.20 L1339.41,137.28 L1342.08,137.37 L1344.75,137.47 L1347.43,137.57 L1350.10,137.67 L1352.78,137.78 L1355.45,137.89 L1358.13,138.01 L1360.81,138.14 L1363.48,138.26 L1366.16,138.39 L1368.84,138.53 L1371.52,138.66 L1374.20,138.80 L1376.87,138.95 L1379.55,139.09 L1382.23,139.24 L1384.91,139.39 L1387.59,139.55 L1390.27,139.70 L1392.95,139.86 L1395.63,140.02 L1398.31,140.18 L1400.99,140.34 L1403.67,140.51 L1406.35,140.67 L1409.03,140.83 L1411.71,141.00 L1414.39,141.16 L1417.07,141.33 L1419.75,141.49 L1422.42,141.66 L1425.10,141.82 L1427.78,141.99 L1430.46,142.15 L1433.13,142.31 L1435.81,142.47 L1438.48,142.63 L1441.16,142.79 L1443.83,142.94 L1446.51,143.10 L1449.18,143.25 L1451.85,143.40 L1454.52,143.55 L1457.19,143.70 L1459.86,143.84 L1462.53,143.99 L1465.20,144.13 L1467.87,144.28 L1470.54,144.42 L1473.21,144.57 L1475.87,144.71 L1478.54,144.85 L1481.21,145.00 L1483.87,145.14 L1486.54,145.28 L1489.20,145.43 L1491.87,145.57 L1494.53,145.71 L1497.20,145.86 L1499.86,146.01 L1502.53,146.15 L1505.19,146.30 L1507.86,146.45 L1510.52,146.60 L1513.18,146.75 L1515.85,146.90 L1518.51,147.06 L1521.17,147.22 L1523.84,147.38 L1526.50,147.54 L1529.16,147.70 L1531.82,147.87 L1534.49,148.03 L1537.15,148.20 L1539.81,148.38 L1542.48,148.55 L1545.14,148.73 L1547.80,148.91 L1550.47,149.10 L1553.13,149.29 L1555.80,149.48 L1558.46,149.68 L1561.12,149.87 L1563.79,150.08 L1566.45,150.28 L1569.12,150.50 L1571.78,150.71 L1574.45,150.93 L1577.12,151.15 L1579.78,151.38 L1582.45,151.61 L1585.12,151.85 L1587.78,152.09 L1590.45,152.33 L1593.12,152.57 L1595.79,152.82 L1598.45,153.07 L1601.12,153.32 L1603.79,153.57 L1606.46,153.82 L1609.13,154.07 L1611.80,154.33 L1614.46,154.59 L1617.13,154.84 L1619.80,155.10 L1622.47,155.36 L1625.14,155.61 L1627.81,155.87 L1630.48,156.12 L1633.15,156.37 L1635.82,156.63 L1638.48,156.88 L1641.15,157.13 L1643.82,157.37 L1646.49,157.62 L1649.16,157.86 L1651.83,158.10 L1654.50,158.33 L1657.16,158.56 L1659.83,158.79 L1662.50,159.02 L1665.17,159.24 L1667.83,159.45 L1670.50,159.67 L1673.17,159.87 L1675.83,160.07 L1678.50,160.27 L1681.16,160.46 L1683.83,160.65 L1686.49,160.82 L1689.16,161.00 L1691.82,161.16 L1694.49,161.32 L1697.15,161.47 L1699.81,161.62 L1702.48,161.75 L1705.14,161.88 L1707.80,162.00" fill="none" stroke="#339433" stroke-width="2.4" stroke-linejoin="round"/>
<path d="M963.40,618.30 L964.09,615.70 L964.78,613.09 L965.46,610.48 L966.13,607.88 L966.80,605.27 L967.47,602.66 L968.13,600.05 L968.79,597.43 L969.44,594.82 L970.09,592.20 L970.74,589.59 L971.38,586.97 L972.02,584.35 L972.66,581.74 L973.29,579.12 L973.92,576.50 L974.55,573.88 L975.17,571.25 L975.80,568.63 L976.42,566.01 L977.03,563.39 L977.65,560.76 L978.27,558.14 L978.88,555.51 L979.49,552.89 L980.10,550.26 L980.71,547.64 L981.32,545.01 L981.93,542.39 L982.54,539.76 L983.15,537.13 L983.75,534.51 L984.36,531.88 L984.97,529.26 L985.58,526.63 L986.18,524.00 L986.79,521.38 L987.40,518.75 L988.01,516.13 L988.62,513.50 L989.24,510.88 L989.85,508.25 L990.47,505.63 L991.08,503.01 L991.70,500.38 L992.33,497.76 L992.95,495.14 L993.58,492.52 L994.21,489.90 L994.84,487.28 L995.47,484.66 L996.11,482.04 L996.75,479.43 L997.40,476.81 L998.04,474.19 L998.70,471.58 L999.35,468.97 L1000.01,466.36 L1000.68,463.75 L1001.34,461.14 L1002.02,458.53 L1002.69,455.92 L1003.38,453.32 L1004.07,450.71 L1004.76,448.11 L1005.46,445.51 L1006.16,442.91 L1006.87,440.31 L1007.59,437.71 L1008.31,435.12 L1009.04,432.53 L1009.77,429.94 L1010.51,427.35 L1011.26,424.76 L1012.01,422.17 L1012.77,419.59 L1013.54,417.00 L1014.31,414.42 L1015.08,411.84 L1015.86,409.26 L1016.65,406.69 L1017.43,404.11 L1018.23,401.54 L1019.02,398.96 L1019.82,396.39 L1020.63,393.82 L1021.43,391.25 L1022.24,388.68 L1023.06,386.11 L1023.87,383.54 L1024.69,380.97 L1025.51,378.40 L1026.33,375.83 L1027.15,373.27 L1027.98,370.70 L1028.80,368.14 L1029.63,365.57 L1030.45,363.00 L1031.28,360.44 L1032.10,357.87 L1032.93,355.31 L1033.76,352.74 L1034.58,350.18 L1035.40,347.61 L1036.23,345.05 L1037.05,342.48 L1037.87,339.91 L1038.69,337.34 L1039.50,334.78 L1040.31,332.21 L1041.13,329.64 L1041.93,327.07 L1042.74,324.50 L1043.54,321.93 L1044.35,319.36 L1045.15,316.79 L1045.95,314.22 L1046.76,311.65 L1047.56,309.08 L1048.37,306.51 L1049.18,303.94 L1049.99,301.37 L1050.80,298.81 L1051.62,296.24 L1052.44,293.68 L1053.27,291.12 L1054.11,288.56 L1054.95,286.00 L1055.79,283.44 L1056.65,280.89 L1057.51,278.34 L1058.38,275.79 L1059.26,273.25 L1060.15,270.70 L1061.05,268.16 L1061.96,265.63 L1062.88,263.09 L1063.81,260.56 L1064.76,258.04 L1065.71,255.52 L1066.69,253.00 L1067.67,250.49 L1068.67,247.98 L1069.69,245.48 L1070.72,242.98 L1071.77,240.50 L1072.84,238.02 L1073.93,235.55 L1075.04,233.09 L1076.17,230.64 L1077.33,228.21 L1078.50,225.78 L1079.70,223.37 L1080.92,220.97 L1082.17,218.59 L1083.45,216.22 L1084.75,213.87 L1086.08,211.53 L1087.44,209.21 L1088.83,206.91 L1090.25,204.63 L1091.70,202.37 L1093.18,200.12 L1094.69,197.90 L1096.24,195.70 L1097.83,193.53 L1099.45,191.37 L1101.10,189.24 L1102.80,187.14 L1104.53,185.06 L1106.30,183.03 L1108.12,181.03 L1109.99,179.07 L1111.90,177.17 L1113.86,175.33 L1115.87,173.54 L1117.94,171.82 L1120.06,170.18 L1122.23,168.60 L1124.46,167.10 L1126.73,165.65 L1129.03,164.26 L1131.37,162.92 L1133.74,161.63 L1136.13,160.38 L1138.53,159.16 L1140.95,157.97 L1143.39,156.83 L1145.85,155.71 L1148.31,154.63 L1150.80,153.58 L1153.29,152.57 L1155.80,151.59 L1158.33,150.63 L1160.86,149.72 L1163.41,148.83 L1165.96,147.97 L1168.53,147.14 L1171.10,146.35 L1173.69,145.58 L1176.28,144.84 L1178.88,144.12 L1181.49,143.44 L1184.10,142.78 L1186.72,142.15 L1189.35,141.55 L1191.97,140.97 L1194.61,140.42 L1197.24,139.89 L1199.88,139.39 L1202.53,138.91 L1205.18,138.45 L1207.83,138.02 L1210.48,137.60 L1213.14,137.21 L1215.80,136.84 L1218.46,136.49 L1221.13,136.16 L1223.80,135.85 L1226.47,135.56 L1229.15,135.28 L1231.82,135.03 L1234.50,134.79 L1237.19,134.56 L1239.87,134.36 L1242.56,134.16 L1245.24,133.98 L1247.93,133.82 L1250.62,133.67 L1253.31,133.53 L1256.01,133.41 L1258.70,133.29 L1261.40,133.19 L1264.10,133.10 L1266.79,133.02 L1269.49,132.95 L1272.19,132.89 L1274.89,132.83 L1277.59,132.79 L1280.29,132.75 L1282.99,132.72 L1285.69,132.69 L1288.39,132.67 L1291.09,132.66 L1293.79,132.65 L1296.49,132.64 L1299.19,132.64 L1301.89,132.65 L1304.58,132.65 L1307.28,132.67 L1309.98,132.69 L1312.68,132.71 L1315.37,132.73 L1318.07,132.77 L1320.77,132.80 L1323.46,132.84 L1326.16,132.88 L1328.86,132.93 L1331.55,132.98 L1334.25,133.04 L1336.94,133.10 L1339.64,133.16 L1342.33,133.23 L1345.03,133.30 L1347.72,133.38 L1350.41,133.46 L1353.11,133.54 L1355.80,133.63 L1358.49,133.72 L1361.19,133.81 L1363.88,133.91 L1366.57,134.01 L1369.26,134.11 L1371.96,134.22 L1374.65,134.33 L1377.34,134.45 L1380.03,134.56 L1382.72,134.69 L1385.41,134.81 L1388.10,134.94 L1390.79,135.07 L1393.49,135.20 L1396.18,135.34 L1398.87,135.48 L1401.56,135.62 L1404.25,135.76 L1406.93,135.91 L1409.62,136.06 L1412.31,136.22 L1415.00,136.37 L1417.69,136.53 L1420.38,136.69 L1423.07,136.86 L1425.76,137.02 L1428.44,137.19 L1431.13,137.36 L1433.82,137.54 L1436.51,137.71 L1439.20,137.89 L1441.88,138.07 L1444.57,138.26 L1447.26,138.44 L1449.95,138.63 L1452.63,138.82 L1455.32,139.01 L1458.01,139.20 L1460.69,139.39 L1463.38,139.59 L1466.07,139.79 L1468.75,139.99 L1471.44,140.19 L1474.12,140.40 L1476.81,140.60 L1479.50,140.81 L1482.18,141.02 L1484.87,141.23 L1487.55,141.44 L1490.24,141.65 L1492.93,141.86 L1495.61,142.08 L1498.30,142.30 L1500.98,142.51 L1503.67,142.73 L1506.35,142.95 L1509.04,143.17 L1511.72,143.40 L1514.41,143.62 L1517.09,143.84 L1519.78,144.07 L1522.46,144.29 L1525.15,144.52 L1527.83,144.75 L1530.52,144.98 L1533.20,145.20 L1535.89,145.43 L1538.57,145.66 L1541.26,145.89 L1543.94,146.13 L1546.63,146.36 L1549.31,146.59 L1552.00,146.82 L1554.68,147.05 L1557.36,147.29 L1560.05,147.52 L1562.73,147.75 L1565.42,147.99 L1568.10,148.22 L1570.79,148.45 L1573.47,148.68 L1576.16,148.92 L1578.84,149.15 L1581.53,149.38 L1584.21,149.62 L1586.90,149.85 L1589.58,150.08 L1592.27,150.31 L1594.95,150.54 L1597.64,150.78 L1600.32,151.01 L1603.01,151.24 L1605.69,151.46 L1608.38,151.69 L1611.06,151.92 L1613.75,152.15 L1616.43,152.38 L1619.12,152.60 L1621.80,152.83 L1624.49,153.05 L1627.18,153.27 L1629.86,153.50 L1632.55,153.72 L1635.23,153.94 L1637.92,154.16 L1640.61,154.37 L1643.29,154.59 L1645.98,154.80 L1648.66,155.02 L1651.35,155.23 L1654.04,155.44 L1656.72,155.65 L1659.41,155.86 L1662.10,156.07 L1664.79,156.27 L1667.47,156.47 L1670.16,156.68 L1672.85,156.88 L1675.54,157.08 L1678.22,157.27 L1680.91,157.47 L1683.60,157.66 L1686.29,157.85 L1688.98,158.04 L1691.67,158.22 L1694.35,158.41 L1697.04,158.59 L1699.73,158.77 L1702.42,158.95 L1705.11,159.13 L1707.80,159.30" fill="none" stroke="#287CB4" stroke-width="2.4" stroke-linejoin="round"/>
<circle cx="1070.0" cy="215.2" r="7" fill="#C42628"/>
<circle cx="1303.5" cy="108.4" r="7" fill="#C42628"/>
<circle cx="1668.8" cy="134.4" r="7" fill="#C42628"/>
<text x="1047.5" y="208.0" font-size="27" text-anchor="middle">A</text>
<text x="1284.6" y="100.3" font-size="27" text-anchor="middle">B</text>
<text x="1656.6" y="120.0" font-size="27" text-anchor="middle">C</text>
<text x="978.6" y="615.6" font-size="27" text-anchor="middle">O</text>
<rect x="963.4" y="18.2" width="744.40" height="600.10" fill="none" stroke="#000" stroke-width="2.4"/>
<text x="950.4" y="625.30" text-anchor="end">0</text>
<line x1="963.4" y1="532.57" x2="974.9" y2="532.57" stroke="#000" stroke-width="2.3"/>
<text x="950.4" y="539.57" text-anchor="end">30</text>
<line x1="963.4" y1="446.84" x2="974.9" y2="446.84" stroke="#000" stroke-width="2.3"/>
<text x="950.4" y="453.84" text-anchor="end">60</text>
<line x1="963.4" y1="361.11" x2="974.9" y2="361.11" stroke="#000" stroke-width="2.3"/>
<text x="950.4" y="368.11" text-anchor="end">90</text>
<line x1="963.4" y1="275.39" x2="974.9" y2="275.39" stroke="#000" stroke-width="2.3"/>
<text x="950.4" y="282.39" text-anchor="end">120</text>
<line x1="963.4" y1="189.66" x2="974.9" y2="189.66" stroke="#000" stroke-width="2.3"/>
<text x="950.4" y="196.66" text-anchor="end">150</text>
<line x1="963.4" y1="103.93" x2="974.9" y2="103.93" stroke="#000" stroke-width="2.3"/>
<text x="950.4" y="110.93" text-anchor="end">180</text>
<text x="950.4" y="25.20" text-anchor="end">210</text>
<text x="963.40" y="649.70" text-anchor="middle">0</text>
<line x1="1087.47" y1="618.3" x2="1087.47" y2="606.8" stroke="#000" stroke-width="2.3"/>
<text x="1087.47" y="649.70" text-anchor="middle">30</text>
<line x1="1211.53" y1="618.3" x2="1211.53" y2="606.8" stroke="#000" stroke-width="2.3"/>
<text x="1211.53" y="649.70" text-anchor="middle">60</text>
<line x1="1335.60" y1="618.3" x2="1335.60" y2="606.8" stroke="#000" stroke-width="2.3"/>
<text x="1335.60" y="649.70" text-anchor="middle">90</text>
<line x1="1459.67" y1="618.3" x2="1459.67" y2="606.8" stroke="#000" stroke-width="2.3"/>
<text x="1459.67" y="649.70" text-anchor="middle">120</text>
<line x1="1583.73" y1="618.3" x2="1583.73" y2="606.8" stroke="#000" stroke-width="2.3"/>
<text x="1583.73" y="649.70" text-anchor="middle">150</text>
<text x="1707.80" y="649.70" text-anchor="middle">180</text>
<text x="1335.60" y="699.5" text-anchor="middle" font-size="31">Displacement (mm)</text>
<text x="1335.60" y="736.5" text-anchor="middle" font-size="31">(b)</text>
<text transform="translate(898.80,317.3) rotate(-90)" text-anchor="middle" font-size="31.3">Snow load (N m<tspan dy="-13.5" font-size="21">-2</tspan><tspan dy="13.5">)</tspan></text>
<line x1="1328.40" y1="311.00" x2="1388.80" y2="311.00" stroke="#C01D21" stroke-width="2.4"/>
<text x="1394.60" y="319.50" font-size="25.4">Flat elliptical hollow section</text>
<line x1="1328.40" y1="342.80" x2="1388.80" y2="342.80" stroke="#339433" stroke-width="2.4"/>
<text x="1394.60" y="351.10" font-size="25.4">Rectangular hollow section</text>
<line x1="1328.40" y1="374.50" x2="1388.80" y2="374.50" stroke="#287CB4" stroke-width="2.4"/>
<text x="1394.60" y="382.80" font-size="25.4">Hat-shaped section</text>
</svg>
</body></html>
